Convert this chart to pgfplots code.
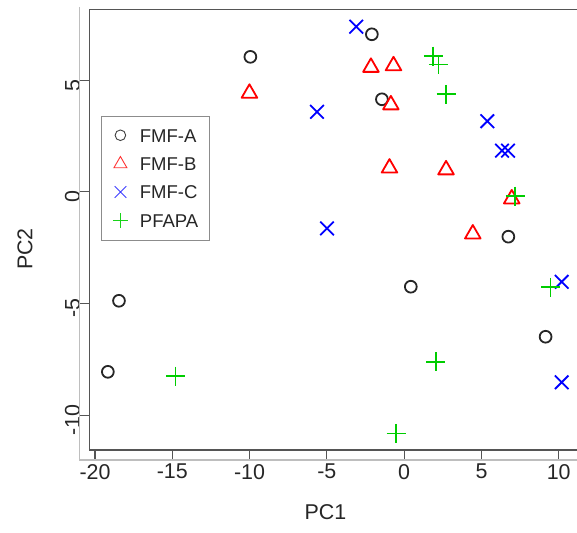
\documentclass[border=0pt]{standalone}
\usepackage{fontspec}
\setmainfont{Liberation Sans}
\usepackage{pgfplots}
\pgfplotsset{compat=1.18}
\definecolor{rgreen}{RGB}{0,205,0}
\definecolor{rblue}{RGB}{0,0,255}
\definecolor{rred}{RGB}{255,0,0}
\definecolor{boxgray}{RGB}{85,85,85}
\definecolor{lgray}{RGB}{190,190,190}

\pgfplotstableread{
x y
-9.95 6.04
-2.09 7.05
-1.44 4.14
6.74 -2.01
0.43 -4.25
9.15 -6.49
-18.45 -4.88
-19.17 -8.06
}\fmfa
\pgfplotstableread{
x y
-10.01 4.41
-2.15 5.57
-0.69 5.64
-0.86 3.89
-0.95 1.06
2.71 0.98
6.96 -0.32
4.44 -1.89
}\fmfb
\pgfplotstableread{
x y
-3.10 7.39
-5.64 3.58
5.38 3.16
6.33 1.84
6.72 1.84
-4.99 -1.64
10.19 -4.03
10.19 -8.53
}\fmfc
\pgfplotstableread{
x y
1.89 6.07
2.22 5.70
2.71 4.36
7.17 -0.19
9.47 -4.28
2.05 -7.62
-0.52 -10.82
-14.79 -8.25
}\pfapa

\begin{document}
\begin{tikzpicture}
\path[use as bounding box] (-89.3bp,-83bp) rectangle (487.7bp,450bp);
\begin{axis}[
  at={(0,0)}, anchor=south west,
  scale only axis, width=490bp, height=440.5bp,
  xmin=-20.37, xmax=11.33, ymin=-11.56, ymax=8.16,
  clip=false,
  axis line style={draw=boxgray, line width=1.3bp},
  xtick={-20,-15,-10,-5,0,5,10},
  xticklabels={-20,-15,-10,-5,0,5,10},
  ytick={-10,-5,0,5},
  yticklabels={-10,-5,0,5},
  xtick pos=bottom, ytick pos=left,
  tick align=outside, major tick length=9bp,
  tick style={draw=boxgray, line width=1.1bp},
  ticklabel style={font=\fontsize{21.5}{24}\selectfont, text=black!85},
  xticklabel style={anchor=north, inner sep=0pt, yshift=-5bp},
  yticklabel style={rotate=90, anchor=south, inner sep=0pt, xshift=-5bp},
  xlabel={PC1}, ylabel={PC2},
  label style={font=\fontsize{21.5}{24}\selectfont, text=black!85},
  xlabel style={at={(axis description cs:0.482,-0.142)}, anchor=center, inner sep=0pt},
  ylabel style={at={(axis description cs:-0.1312,0.4563)}, anchor=center, inner sep=0pt, rotate=0},
  legend style={at={(axis description cs:0.0239,0.758)}, anchor=north west,
    draw=black!45, line width=0.8bp, fill=white,
    font=\fontsize{18.6}{22}\selectfont, text=black!85,
    inner xsep=11.5bp, inner ysep=12bp, row sep=14.5bp, column sep=12bp,
    nodes={inner sep=0pt, text height=13.5bp, text depth=0bp}},
  legend cell align=left,
]
\addlegendimage{only marks, mark=o, mark size=5.3bp, mark options={draw=black!75, line width=0.9bp}}
\addlegendentry{FMF-A}
\addlegendimage{only marks, mark=triangle, mark size=7.5bp, mark options={draw=rred!80, line width=0.9bp}}
\addlegendentry{FMF-B}
\addlegendimage{only marks, mark=x, mark size=8.2bp, mark options={draw=rblue!75, line width=0.9bp}}
\addlegendentry{FMF-C}
\addlegendimage{only marks, mark=+, mark size=7.5bp, mark options={draw=rgreen!90, line width=0.9bp}}
\addlegendentry{PFAPA}

\addplot[forget plot, only marks, mark=o, mark size=5.9bp, mark options={draw=black!85, line width=1.8bp}] table {\fmfa};
\addplot[forget plot, only marks, mark=triangle, mark size=9bp, mark options={draw=rred, line width=1.8bp, line join=round}] table {\fmfb};
\addplot[forget plot, only marks, mark=x, mark size=9.6bp, mark options={draw=rblue, line width=1.8bp}] table {\fmfc};
\addplot[forget plot, only marks, mark=+, mark size=9.5bp, mark options={draw=rgreen, line width=1.8bp}] table {\pfapa};

\draw[lgray, line width=1.1bp] ([xshift=-10bp,yshift=2.5bp]rel axis cs:0,1) -- ([xshift=-10bp,yshift=-10bp]rel axis cs:0,0) -- ([xshift=5bp,yshift=-10bp]rel axis cs:1,0);
\end{axis}
\end{tikzpicture}
\end{document}
